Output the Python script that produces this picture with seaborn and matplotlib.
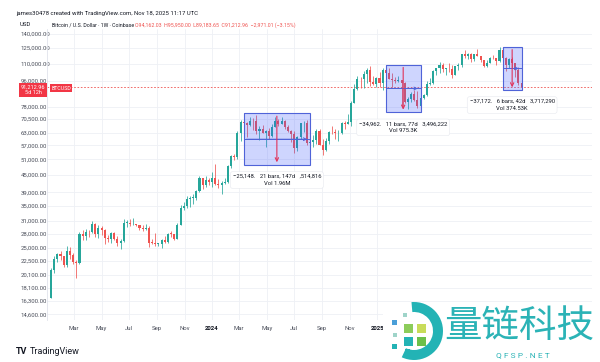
import matplotlib
matplotlib.use("Agg")
import numpy as np
import pandas as pd
import seaborn as sns
import matplotlib.pyplot as plt
import matplotlib.dates as mdates
from matplotlib.patches import Rectangle, Wedge
from matplotlib.transforms import IdentityTransform

# weekly BTC/USD candles (Coinbase), first week starts 2023-01-09
opens = [16700, 20880, 22790, 23750, 23300, 21800, 24300, 23560, 22350, 22150,
         27950, 27480, 28450, 28330, 30300, 27820, 29230, 28900, 26920, 26750,
         28080, 26850, 25850, 26340, 30550, 30590, 30170, 30300, 30080, 29260,
         29050, 29400, 26050, 26000, 25830, 25840, 26530, 26250, 27970, 27930,
         26850, 30000, 34500, 35050, 37050, 37400, 37450, 39450, 43800, 41400,
         43000,
         42270, 43950, 41700, 41580, 42050, 42580, 48300, 52130, 51730, 63100,
         68950, 68380, 67210, 69650, 69360, 63930, 64950, 63100, 63900, 61480,
         66270, 69400, 67750, 69650, 66200, 64250, 62700, 55850, 60800, 68150,
         68250, 58200, 58700, 59500, 64200, 57300, 54800, 59100, 63600, 63300,
         62800, 62850, 68350, 68000, 68750, 80450, 89850, 97700, 97250, 101150,
         104450, 95200, 93700,
         98300, 94500, 104500, 102600, 97700, 96500, 96150, 96250, 94300, 80700,
         82600, 86100, 82400, 78400, 83800, 85300, 93800, 94300, 104100, 106100,
         109000, 105600, 105700, 105500, 100900, 108400, 109200, 119100, 117300, 119400,
         114200, 119300, 117400, 113400, 108200, 111100, 115300, 115250, 112200, 123500,
         115100, 108600, 114400, 110600, 104700, 94162]
highs = [21300, 23370, 23960, 24250, 23450, 25250, 25130, 23890, 22600, 28400,
         28850, 29150, 28800, 31000, 30500, 30000, 29800, 29000, 27650, 28450,
         28450, 27400, 26800, 31400, 31300, 31500, 31800, 30350, 30100, 30000,
         30250, 29700, 26800, 28150, 26000, 26850, 27480, 28100, 28600, 28000,
         30400, 35200, 35980, 38000, 37980, 38450, 39700, 44700, 44000, 44400,
         43800,
         45900, 49000, 43500, 42800, 43850, 48600, 52800, 53000, 64000, 70000,
         73800, 68900, 71800, 71300, 72800, 66900, 67200, 64700, 65500, 67700,
         71950, 70600, 71950, 70200, 67000, 64500, 63800, 61400, 68300, 69400,
         70000, 62700, 61800, 65000, 64900, 59800, 60600, 64100, 66500, 64900,
         64500, 69000, 69500, 73600, 81500, 93500, 99600, 98700, 104000, 106500,
         108300, 99900, 99000,
         102700, 106400, 109350, 106400, 102500, 98800, 99500, 96500, 95000, 84300,
         87500, 88800, 88500, 85800, 86500, 95800, 97900, 104300, 106600, 111900,
         110700, 106800, 110400, 108900, 108500, 110500, 119500, 123200, 120200, 119800,
         119400, 124500, 117600, 113800, 113300, 116700, 117900, 115400, 125700, 126200,
         116000, 114900, 116400, 110700, 107500, 95950]
lows = [16600, 20410, 22300, 22550, 21450, 21350, 22750, 21900, 19570, 21900,
        26600, 26500, 27250, 28200, 27150, 26950, 27700, 25800, 26130, 25870,
        26600, 25350, 24800, 26250, 29500, 29700, 29950, 29650, 28850, 28600,
        28750, 25200, 25750, 25350, 25350, 24900, 26000, 26000, 27200, 26550,
        26800, 29900, 33900, 34500, 34800, 35650, 36700, 39300, 40200, 40600,
        41400,
        40800, 41500, 40300, 38550, 41850, 42260, 47700, 50600, 50900, 59000,
        64500, 60800, 66800, 64500, 62300, 59600, 62800, 56500, 60200, 60800,
        66000, 66700, 67600, 65000, 63400, 58400, 53500, 54300, 59900, 63400,
        57200, 49000, 56100, 57800, 57200, 52550, 54600, 57500, 62700, 59800,
        58900, 62500, 65000, 67500, 66800, 80000, 89400, 90800, 90500, 94200,
        92200, 92500, 91500,
        91200, 89200, 99500, 97500, 91200, 94100, 94900, 78200, 80000, 76600,
        81200, 81600, 77100, 74400, 83100, 85100, 92800, 93400, 100700, 102000,
        103000, 100400, 102700, 98200, 100300, 105100, 107500, 115700, 114700, 112000,
        112700, 116800, 111700, 107300, 107300, 110600, 114700, 108600, 111500, 102000,
        103500, 106600, 106300, 98900, 93000, 89184]
closes = [20880, 22790, 23750, 23300, 21800, 24300, 23560, 22350, 22150, 27950,
          27480, 28450, 28330, 30300, 27820, 29230, 28900, 26920, 26750, 28080,
          26850, 25850, 26340, 30550, 30590, 30170, 30300, 30080, 29260, 29050,
          29400, 26050, 26000, 25830, 25840, 26530, 26250, 27970, 27930, 26850,
          30000, 34500, 35050, 37050, 37400, 37450, 39450, 43800, 41400, 43000,
          42270,
          43950, 41700, 41580, 42050, 42580, 48300, 52130, 51730, 63100, 68950,
          68380, 67210, 69650, 69360, 63930, 64950, 63100, 63900, 61480, 66270,
          69400, 67750, 69650, 66200, 64250, 62700, 55850, 60800, 68150, 68250,
          58200, 58700, 59500, 64200, 57300, 54800, 59100, 63600, 63300, 62800,
          62850, 68350, 68000, 68750, 80450, 89850, 97700, 97250, 101150, 104450,
          95200, 93700, 98300,
          94500, 104500, 102600, 97700, 96500, 96150, 96250, 94300, 80700, 82600,
          86100, 82400, 78400, 83800, 85300, 93800, 94300, 104100, 106100, 109000,
          105600, 105700, 105500, 100900, 108400, 109200, 119100, 117300, 119400, 114200,
          119300, 117400, 113400, 108200, 111100, 115300, 115250, 112200, 123500, 115100,
          108600, 114400, 110600, 104700, 94200, 91213]

last_price = 91212.96
y_ticks = [14600, 16300, 18100, 20100, 22500, 25000, 28000, 31000, 35000, 39000,
           45000, 51000, 57000, 63000, 70500, 78000, 96000, 110000, 125000, 140000]
x_tick_dates = ["2023-03-01", "2023-05-01", "2023-07-01", "2023-09-01", "2023-11-01",
                "2024-01-01", "2024-03-01", "2024-05-01", "2024-07-01", "2024-09-01",
                "2024-11-01", "2025-01-01"]
x_tick_labels = ["Mar", "May", "Jul", "Sep", "Nov", "2024", "Mar", "May", "Jul", "Sep",
                 "Nov", "2025"]

# date & price range measurements: start week, end week, top, bottom, texts
ranges = [
    ("2024-03-11", "2024-08-05", 73800, 48652, "\u221225,148.", "21 bars, 147d", ",514,816", "Vol 1.96M"),
    ("2025-01-20", "2025-04-07", 109350, 74388, "\u221234,962.", "11 bars, 77d", "3,496,222", "Vol 975.3K"),
    ("2025-10-06", "2025-11-17", 126200, 89028, "\u221237,172.", "6 bars, 42d", "3,717,290", "Vol 374.53K"),
]

sns.set_theme(style="white")
plt.rcParams["font.family"] = ["Roboto", "DejaVu Sans"]

UP = "#26a69a"
DOWN = "#ef5350"
BLUE = "#4f63d8"
GRID = "#eef0f5"
TXT = "#131722"

fig = plt.figure(figsize=(6, 3.62), dpi=100)
ax = fig.add_axes([47 / 600, 1 - 320 / 362, (592 - 47) / 600, (320 - 29) / 362])

dates = pd.date_range("2023-01-09", periods=len(closes), freq="7D")
x = mdates.date2num(dates)
o = np.array(opens, float)
h = np.array(highs, float)
l = np.array(lows, float)
c = np.array(closes, float)
cols = [UP if cc >= oo else DOWN for oo, cc in zip(o, c)]

ax.vlines(x, l, h, colors=cols, lw=0.55, zorder=3)
body_lo = np.minimum(o, c)
body_h = np.maximum(np.abs(c - o), body_lo * 0.004)
ax.bar(x, body_h, bottom=body_lo, width=4.6, color=cols, linewidth=0, zorder=4)

ax.set_yscale("log")
ax.set_ylim(13950, 145700)
ax.set_xlim(mdates.date2num(pd.Timestamp("2022-12-31")), mdates.date2num(pd.Timestamp("2026-04-22")))

ax.set_yticks(y_ticks)
ax.set_yticklabels([f"{v:,.2f}" for v in y_ticks])
ax.yaxis.set_minor_locator(matplotlib.ticker.NullLocator())
for lab in ax.get_yticklabels():
    lab.set_horizontalalignment("left")
ax.tick_params(axis="y", length=0, pad=19, labelsize=4.3, labelcolor="#4a4e5a")

xt = mdates.date2num(pd.to_datetime(x_tick_dates))
ax.set_xticks(xt)
ax.set_xticklabels(x_tick_labels)
ax.tick_params(axis="x", length=0, pad=4, labelsize=4.3, labelcolor="#4a4e5a")
for lab in ax.get_xticklabels():
    if lab.get_text().isdigit():
        lab.set_fontweight("bold")
        lab.set_color(TXT)

ax.grid(True, color=GRID, lw=0.6)
for s in ["top", "right", "bottom"]:
    ax.spines[s].set_visible(False)
ax.spines["left"].set_color("#e0e3eb")
ax.spines["left"].set_linewidth(0.6)

ax.axhline(last_price, color=DOWN, lw=0.6, ls=(0, (2, 2)), zorder=2)

for d0, d1, top, bot, t_left, t_mid, t_right, t_vol in ranges:
    x0 = mdates.date2num(pd.Timestamp(d0))
    x1 = mdates.date2num(pd.Timestamp(d1))
    xm = (x0 + x1) / 2
    ym = np.sqrt(top * bot)
    ax.add_patch(Rectangle((x0, bot), x1 - x0, top - bot, facecolor="#3d5afe",
                           alpha=0.25, edgecolor="none", zorder=5))
    ax.add_patch(Rectangle((x0, bot), x1 - x0, top - bot, facecolor="none",
                           edgecolor=BLUE, lw=0.8, zorder=6))
    ax.plot([x0, x1], [ym, ym], color=BLUE, lw=0.7, zorder=6)
    ax.annotate("", xy=(x1, ym), xytext=(x0, ym),
                arrowprops=dict(arrowstyle="->", color=BLUE, lw=0.7, mutation_scale=5), zorder=7)
    ax.annotate("", xy=(xm, bot), xytext=(xm, top),
                arrowprops=dict(arrowstyle="->", color="#e0335a", lw=0.8, mutation_scale=6), zorder=7)
    # label under the box
    y_lab = bot / 1.075
    ax.text(xm, y_lab, f"{t_left}   {t_mid}   {t_right}\n{t_vol}", ha="center", va="top",
            fontsize=4.2, color=TXT, linespacing=1.5, zorder=8,
            bbox=dict(boxstyle="round,pad=0.4", fc="white", ec="#e6e8ee", lw=0.4))

# header
fig.text(16 / 600, 1 - 13 / 362, "james30478 created with TradingView.com, Nov 18, 2025 11:17 UTC",
         fontsize=4.3, color=TXT, va="center")
fig.text(20 / 600, 1 - 25 / 362, "USD", fontsize=4.3, color=TXT, va="center")
fig.text(52 / 600, 1 - 25 / 362, "Bitcoin / U.S. Dollar \u00b7 1W \u00b7 Coinbase", fontsize=3.8,
         color=TXT, va="center")
fig.text(135 / 600, 1 - 25 / 362,
         "O94,162.03  H95,950.00  L89,183.65  C91,212.96  \u22122,971.01 (\u22123.15%)",
         fontsize=3.8, color=DOWN, va="center")

# last price tags
fig.text(33 / 600, 1 - 90 / 362, "91,212.96\n5d 12h", fontsize=4.0, color="white",
         ha="center", va="center", linespacing=1.2,
         bbox=dict(boxstyle="square,pad=0.3", fc="#f23645", ec="none"))
fig.text(61 / 600, 1 - 88 / 362, "BTCUSD", fontsize=3.8, color="white", ha="center",
         va="center", bbox=dict(boxstyle="square,pad=0.25", fc="#f23645", ec="none"))

# TradingView footer
fig.text(16 / 600, 1 - 352 / 362, "TV", fontsize=6.5, fontweight="bold", color=TXT, va="center")
fig.text(30 / 600, 1 - 352 / 362, "TradingView", fontsize=6.5, color=TXT, va="center")

# watermark
fig.add_artist(Rectangle((383 / 600, 0), 217 / 600, 60 / 362, transform=fig.transFigure,
                         facecolor="white", edgecolor="none", zorder=20))
ident = IdentityTransform()
cx, cy = 414, 362 - 331
fig.add_artist(Wedge((cx, cy), 29, -115, 95, width=10, transform=ident,
                     facecolor="#23b3b5", edgecolor="none", zorder=21))
squares = [(392, 320, 5, "#4a9fd8"), (393, 333, 4, "#9fd4c9"), (392, 344, 5, "#23b3b5"),
           (403, 313, 4, "#9fd4c9"), (404, 324, 9, "#8ccc5a"), (417, 324, 9, "#c8dc5a"),
           (404, 337, 9, "#23b3b5"), (417, 337, 9, "#6cc04a"), (405, 349, 5, "#23b3b5")]
for sx, sy, ss, sc in squares:
    fig.add_artist(Rectangle((sx, 362 - sy - ss), ss, ss, transform=ident,
                             facecolor=sc, edgecolor="none", zorder=21))
fig.text(519 / 600, 1 - 326 / 362, "量链科技", fontsize=27, color="#2bb3b6", ha="center",
         va="center", family=["Noto Sans CJK SC", "DejaVu Sans"], zorder=22)
fig.text(523 / 600, 1 - 355 / 362, "Q F S P . N E T", fontsize=6, color="#2bb3b6", ha="center",
         va="center", zorder=22)

fig.savefig("out.png", dpi=100)
